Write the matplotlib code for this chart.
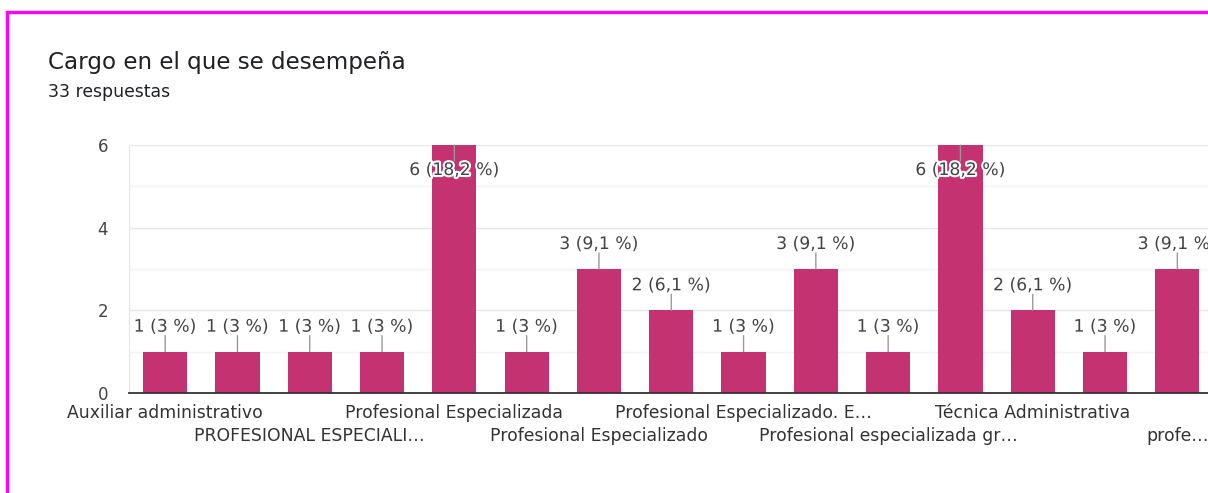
import matplotlib
matplotlib.use("Agg")
import matplotlib.pyplot as plt
import matplotlib.patheffects as pe
from matplotlib.patches import Rectangle
from matplotlib.transforms import blended_transform_factory

# ---------------------------------------------------------
# Data
# ---------------------------------------------------------
title = "Cargo en el que se desempeña"
subtitle = "33 respuestas"
total = 33

counts = [1, 1, 1, 1, 6, 1, 3, 2, 1, 3, 1, 6, 2, 1, 3]

# only every other category label is shown in the chart
tick_labels = [
    "Auxiliar administrativo", "",
    "PROFESIONAL ESPECIALI…", "",
    "Profesional Especializada", "",
    "Profesional Especializado", "",
    "Profesional Especializado. E…", "",
    "Profesional especializada gr…", "",
    "Técnica Administrativa", "",
    "profe…",
]
y_ticks = [0, 2, 4, 6]

bar_color = "#c53272"
font = "DejaVu Sans"
W, H = 1208, 493

# ---------------------------------------------------------
# Figure
# ---------------------------------------------------------
fig = plt.figure(figsize=(W / 100, H / 100), dpi=100)
fig.patch.set_facecolor("white")

# magenta frame (runs off the right and bottom edge)
fig.patches.append(Rectangle((7 / W, -0.2), 2.0, (H - 12) / H + 0.2,
                             transform=fig.transFigure, fill=False,
                             edgecolor="#ff00ff", lw=2.4, zorder=10))

fig.text(48 / W, 1 - 62 / H, title, fontsize=16.6, family=font,
         color="#202124", va="center", ha="left")
fig.text(48 / W, 1 - 92 / H, subtitle, fontsize=12.4, family=font,
         color="#202124", va="center", ha="left")

n = len(counts)
step = 72.3
left_px, bottom_px, top_px = 129, 393, 145
ax = fig.add_axes([left_px / W, (H - bottom_px) / H,
                   n * step / W, (bottom_px - top_px) / H])

x = list(range(n))
ax.bar(x, counts, width=0.61, color=bar_color, zorder=3)
ax.set_xlim(-0.5, n - 0.5)
ax.set_ylim(0, 6)

# grid: major every 2, minor at odd values
for yv in range(0, 7):
    ax.axhline(yv, color="#e6e6e6" if yv % 2 == 0 else "#f3f3f3",
               lw=1, zorder=1)
ax.axvline(-0.5, color="#e6e6e6", lw=1, zorder=1)

for s in ["top", "right", "left"]:
    ax.spines[s].set_visible(False)
ax.spines["bottom"].set_color("#333333")
ax.spines["bottom"].set_linewidth(1.3)
ax.spines["bottom"].set_zorder(4)

ax.set_yticks(y_ticks)
ax.set_yticklabels([str(v) for v in y_ticks], family=font,
                   fontsize=12, color="#444444")
ax.tick_params(axis="y", length=0, pad=15)
ax.set_xticks([])

# category labels in two alternating rows
trans = blended_transform_factory(ax.transData, ax.transAxes)
row = 0
for i, lab in enumerate(tick_labels):
    if not lab:
        continue
    off = -20 if row == 0 else -43
    ax.annotate(lab, (i, 0), xycoords=trans, xytext=(0, off),
                textcoords="offset pixels", ha="center", va="center",
                fontsize=12.4, family=font, color="#333333",
                annotation_clip=False)
    row = 1 - row


def pct_text(v):
    p = round(v / total * 100, 1)
    s = f"{p:.1f}".replace(".", ",")
    if s.endswith(",0"):
        s = s[:-2]
    return f"{v} ({s} %)"


ymax = ax.get_ylim()[1]
for i, v in enumerate(counts):
    sign = -1 if v >= ymax else 1
    ax.annotate("", (i, v), xytext=(0, sign * 16), textcoords="offset pixels",
                arrowprops=dict(arrowstyle="-", color="#999999", lw=1,
                                shrinkA=0, shrinkB=0), zorder=5)
    t = ax.annotate(pct_text(v), (i, v), xytext=(0, sign * 25),
                    textcoords="offset pixels", ha="center", va="center",
                    fontsize=12.4, family=font, color="#444444",
                    zorder=6, annotation_clip=False)
    t.set_path_effects([pe.withStroke(linewidth=3, foreground="white")])

fig.savefig("out.png", dpi=100, facecolor="white")
